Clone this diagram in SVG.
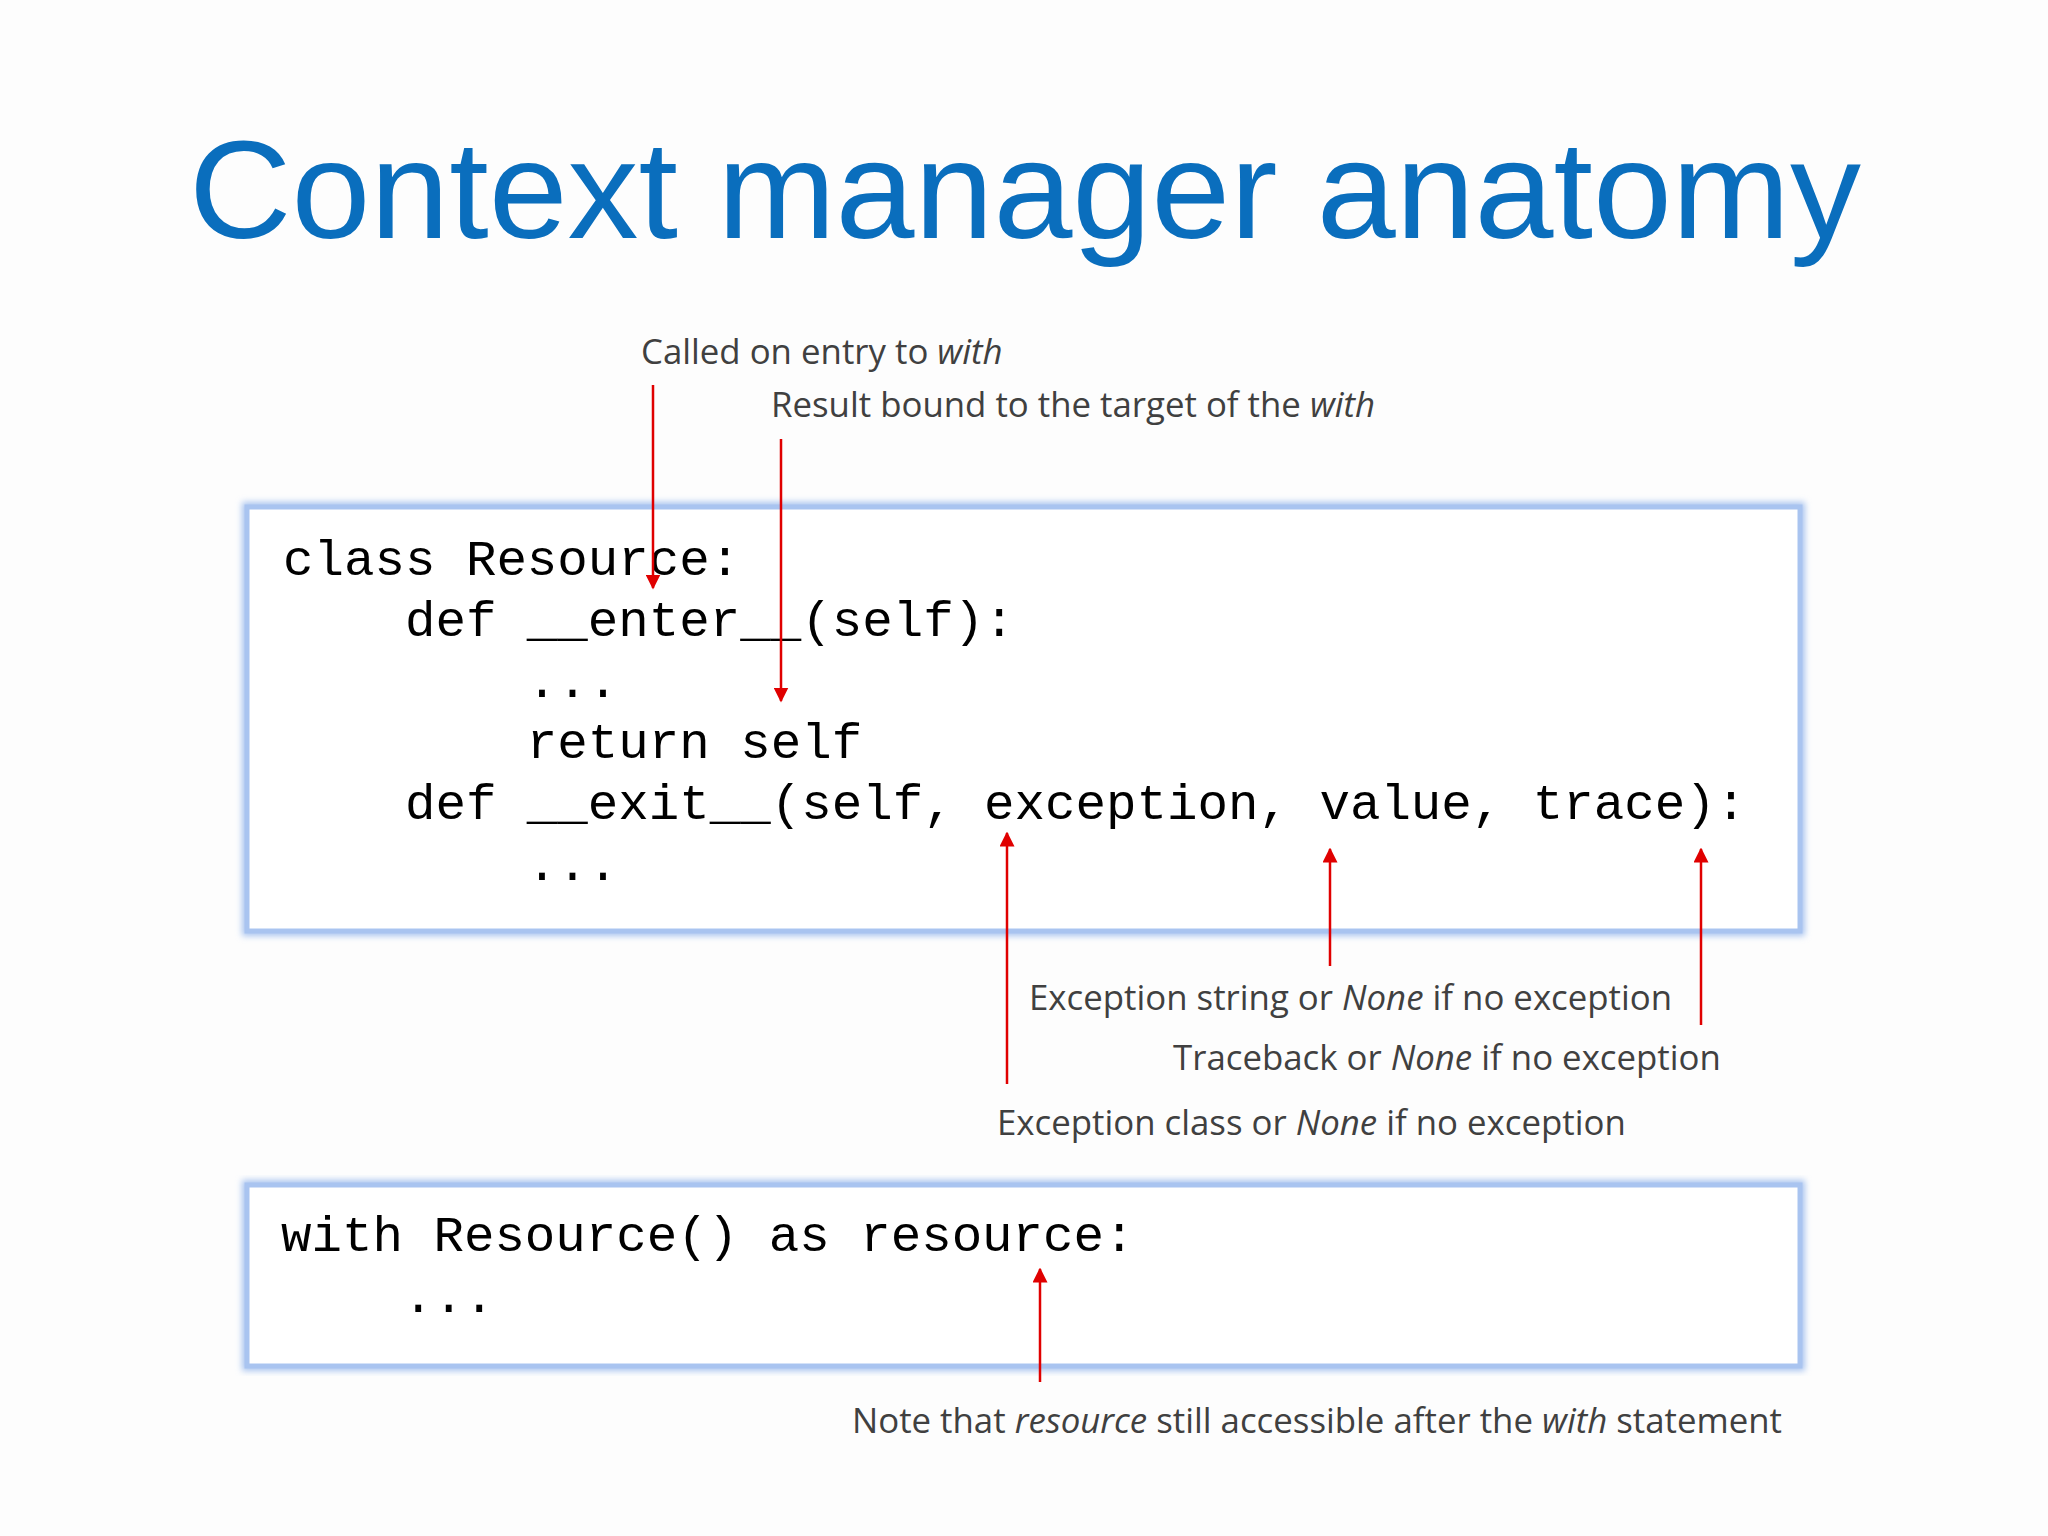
<svg xmlns="http://www.w3.org/2000/svg" width="2048" height="1536" viewBox="0 0 2048 1536">
<style>
.code{font-family:"Liberation Mono","DejaVu Sans Mono",monospace;font-size:50.8px;fill:#000}
.note{font-family:"Open Sans","Noto Sans",sans-serif;font-size:34.8px;fill:#404040}
.box{fill:#fff;stroke:#a9c4f0;stroke-width:5}
.arr{stroke:#e00000;stroke-width:2.5;fill:none;marker-end:url(#ah)}
</style>
<defs>
<marker id="ah" viewBox="0 0 10 10" refX="9" refY="5" markerWidth="6" markerHeight="6" orient="auto" markerUnits="strokeWidth"><path d="M0,0L10,5L0,10z" fill="#e00000"/></marker>
<filter id="glow" x="-5%" y="-5%" width="110%" height="110%"><feGaussianBlur stdDeviation="3"/></filter>
</defs>
<rect width="2048" height="1536" fill="#fdfdfd"/>
<text x="189" y="238" font-family="'Liberation Sans',Arial,sans-serif" font-size="140" fill="#0a6ebd" textLength="1672" lengthAdjust="spacingAndGlyphs">Context manager anatomy</text>
<g id="classbox">
<rect x="247" y="507" width="1553" height="424" fill="none" stroke="#a9c4f0" stroke-width="10" filter="url(#glow)"/>
<rect class="box" x="247" y="507" width="1553" height="424"/>
<text class="code" xml:space="preserve"><tspan x="283" y="575">class Resource:</tspan><tspan x="283" y="636">    def __enter__(self):</tspan><tspan x="283" y="697">        ...</tspan><tspan x="283" y="758">        return self</tspan><tspan x="283" y="819">    def __exit__(self, exception, value, trace):</tspan><tspan x="283" y="880">        ...</tspan></text>
</g>
<g id="withbox">
<rect x="247" y="1185" width="1553" height="181" fill="none" stroke="#a9c4f0" stroke-width="10" filter="url(#glow)"/>
<rect class="box" x="247" y="1185" width="1553" height="181"/>
<text class="code" xml:space="preserve"><tspan x="281" y="1251">with Resource() as resource:</tspan><tspan x="281" y="1312">    ...</tspan></text>
</g>
<g id="notes">
<text class="note" x="641" y="364">Called on entry to <tspan font-style="italic">with</tspan></text>
<text class="note" x="771" y="417">Result bound to the target of the <tspan font-style="italic">with</tspan></text>
<text class="note" x="1029" y="1010">Exception string or <tspan font-style="italic">None</tspan> if no exception</text>
<text class="note" x="1173" y="1070">Traceback or <tspan font-style="italic">None</tspan> if no exception</text>
<text class="note" x="997" y="1135">Exception class or <tspan font-style="italic">None</tspan> if no exception</text>
<text class="note" x="852" y="1433">Note that <tspan font-style="italic">resource</tspan> still accessible after the <tspan font-style="italic">with</tspan> statement</text>
</g>
<g id="connectors">
<line class="arr" x1="653" y1="385" x2="653" y2="588"/>
<line class="arr" x1="781" y1="439" x2="781" y2="701"/>
<line class="arr" x1="1007" y1="1084" x2="1007" y2="833"/>
<line class="arr" x1="1330" y1="966" x2="1330" y2="849"/>
<line class="arr" x1="1701" y1="1025" x2="1701" y2="849"/>
<line class="arr" x1="1040" y1="1382" x2="1040" y2="1269"/>
</g>
</svg>
